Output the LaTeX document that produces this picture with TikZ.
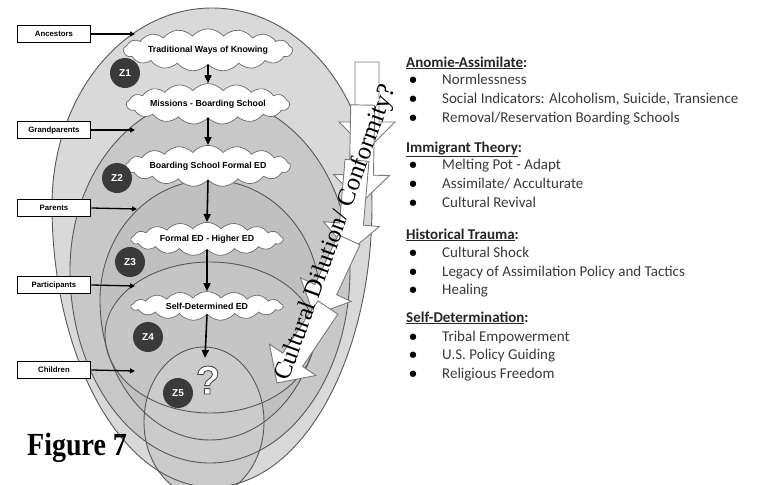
\documentclass[tikz,border=0pt]{standalone}
\usepackage{fontspec}
\setmainfont{Liberation Serif}
\newfontfamily\calib{Carlito}
\newfontfamily\arial{Liberation Sans}
\usetikzlibrary{shapes.symbols,arrows.meta}
\definecolor{eggA}{HTML}{D9D9D9}
\definecolor{eggB}{HTML}{C8C8C8}
\definecolor{eggC}{HTML}{C0C0C0}
\definecolor{eggD}{HTML}{C5C5C5}
\definecolor{eggE}{HTML}{CBCBCB}
\definecolor{eggline}{HTML}{585858}
\definecolor{zdark}{HTML}{3A3A3A}
\definecolor{cloudline}{HTML}{6A6A6A}
\definecolor{arrowline}{HTML}{7A7A7A}
\definecolor{txt}{HTML}{3A3A3A}
\definecolor{head}{HTML}{262626}
\newcommand\eggpath[5]{({#1-#4},#2) arc[start angle=180,end angle=360,x radius=#4,y radius=#3] arc[start angle=0,end angle=180,x radius=#4,y radius=#5] -- cycle}
\newcommand\bkarrow[4]{\begin{scope}[shift={(#1,#2)},rotate=#3]\draw[bkarrowstyle] (0,0) -- (-28,-28) -- (-28,-12) -- (-#4,-12) -- (-#4,12) -- (-28,12) -- (-28,28) -- cycle;\end{scope}}
\newcommand\outlinedq{\special{pdf:code q 2 Tr 0.9 w 0.3 0.3 0.3 RG}?\special{pdf:code Q}}
\tikzset{
  eggedge/.style={draw=eggline, line width=0.9pt},
  zc/.style={circle, fill=zdark, minimum size=30pt, inner sep=0pt, text=white, font=\arial\bfseries\fontsize{10}{10}\selectfont},
  cl/.style={cloud, cloud puffs=17, cloud puff arc=100, aspect=6, draw=cloudline, fill=white, line width=0.7pt, minimum width=152pt, minimum height=24pt, inner sep=0pt, font=\arial\bfseries\fontsize{8.8}{9}\selectfont},
  lbox/.style={draw=black, line width=1.8pt, fill=white, minimum width=73pt, minimum height=17pt, inner sep=0pt, font=\arial\bfseries\fontsize{7.8}{8}\selectfont},
  flow/.style={-{Triangle[length=8pt,width=7pt]}, line width=1.6pt},
  pointer/.style={-{Triangle[length=5pt,width=5pt]}, line width=1.3pt},
  bkarrowstyle/.style={draw=arrowline, fill=white, line width=0.9pt, line join=miter},
  hd/.style={anchor=base west, inner sep=0pt, text=head, font=\calib\bfseries\fontsize{15}{15}\selectfont},
  it/.style={anchor=base west, inner sep=0pt, text=txt, font=\calib\fontsize{15}{15}\selectfont},
  bul/.style={anchor=base, inner sep=0pt, text=black, font=\calib\bfseries\fontsize{15}{15}\selectfont},
  qm/.style={inner sep=0pt, font=\arial\bfseries\fontsize{40}{40}\selectfont}
}
\begin{document}
\begin{tikzpicture}[x=1pt,y=-1pt]
\fill[white] (0,0) rectangle (764,485);
\path[use as bounding box] (0,0) rectangle (764,485);
% nested eggs
\begin{scope}
\clip (0,0) rectangle (764,485);
\fill[eggA] \eggpath{212}{205}{197}{160}{282};
\fill[eggB] \eggpath{210}{270}{173}{140}{193};
\fill[eggC] \eggpath{210}{300}{120}{110}{140};
\fill[eggD] \eggpath{210}{335}{73}{105}{78};
\fill[eggE] (204,422) ellipse[x radius=60, y radius=75];
\draw[eggedge] \eggpath{212}{205}{197}{160}{282};
\draw[eggedge] \eggpath{210}{270}{173}{140}{193};
\draw[eggedge] \eggpath{210}{300}{120}{110}{140};
\draw[eggedge] \eggpath{210}{335}{73}{105}{78};
\draw[eggedge] (204,422) ellipse[x radius=60, y radius=75];
\end{scope}
% clouds
\node[cl] (c1) at (208,50) {Traditional Ways of Knowing};
\node[cl] (c2) at (208,104) {Missions - Boarding School};
\node[cl] (c3) at (208,166) {Boarding School Formal ED};
\node[cl] (c4) at (207,239) {Formal ED - Higher ED};
\node[cl] (c5) at (207,306) {Self-Determined ED};
\coordinate (qtop) at (205,358);
\draw[flow] (c1.south) -- (c2.north);
\draw[flow] (c2.south) -- (c3.north);
\draw[flow] (c3.south) -- (c4.north);
\draw[flow] (c4.south) -- (c5.north);
\draw[flow] (c5.south) -- (qtop);
% question mark
\node[qm,text=white] (qmark) at (208,380) {\outlinedq};
% zone circles
\node[zc] (z1) at (125,73) {Z1};
\node[zc] (z2) at (117,178) {Z2};
\node[zc] (z3) at (130,262) {Z3};
\node[zc] (z4) at (148,337) {Z4};
\node[zc] (z5) at (178,393) {Z5};
% block arrows
\bkarrow{367}{150}{-90}{88}
\bkarrow{361}{203}{-91}{98}
\bkarrow{349}{252}{-95}{92}
\bkarrow{314}{315}{-115}{83}
\bkarrow{277}{383}{-124}{91}
\node[rotate=70, inner sep=0pt, font=\fontsize{25}{25}\selectfont] (cd) at (336,233) {Cultural Dilution/ Conformity?};
% generation boxes
\node[lbox] (anc) at (54,34) {Ancestors};
\node[lbox] (gra) at (54,130) {Grandparents};
\node[lbox] (par) at (54,208) {Parents};
\node[lbox] (pat) at (54,285) {Participants};
\node[lbox] (chi) at (54,370) {Children};
\coordinate (anc-t) at (135,34);
\coordinate (gra-t) at (135,130);
\coordinate (par-t) at (137,209);
\coordinate (pat-t) at (135,286);
\coordinate (chi-t) at (135,371);
\draw[pointer] (anc.east) -- (anc-t);
\draw[pointer] (gra.east) -- (gra-t);
\draw[pointer] (par.east) -- (par-t);
\draw[pointer] (pat.east) -- (pat-t);
\draw[pointer] (chi.east) -- (chi-t);
% right-hand text
\node[hd] (h1) at (406,67) {\underline{Anomie-Assimilate}:};
\node[bul] (b11) at (413,84) {•}; \node[it] (t11) at (442,84) {Normlessness};
\node[bul] (b12) at (413,103) {•}; \node[it] (t12) at (442,103) {Social Indicators: Alcoholism, Suicide, Transience};
\node[bul] (b13) at (413,122) {•}; \node[it] (t13) at (442,122) {Removal/Reservation Boarding Schools};
\node[hd] (h2) at (406,152) {\underline{Immigrant Theory}:};
\node[bul] (b21) at (413,169) {•}; \node[it] (t21) at (442,169) {Melting Pot - Adapt};
\node[bul] (b22) at (413,188) {•}; \node[it] (t22) at (442,188) {Assimilate/ Acculturate};
\node[bul] (b23) at (413,207) {•}; \node[it] (t23) at (442,207) {Cultural Revival};
\node[hd] (h3) at (406,239) {\underline{Historical Trauma}:};
\node[bul] (b31) at (413,257) {•}; \node[it] (t31) at (442,257) {Cultural Shock};
\node[bul] (b32) at (413,276) {•}; \node[it] (t32) at (442,276) {Legacy of Assimilation Policy and Tactics};
\node[bul] (b33) at (413,294) {•}; \node[it] (t33) at (442,294) {Healing};
\node[hd] (h4) at (406,322) {\underline{Self-Determination}:};
\node[bul] (b41) at (413,341) {•}; \node[it] (t41) at (442,341) {Tribal Empowerment};
\node[bul] (b42) at (413,359) {•}; \node[it] (t42) at (442,359) {U.S. Policy Guiding};
\node[bul] (b43) at (413,378) {•}; \node[it] (t43) at (442,378) {Religious Freedom};
% figure caption
\node[anchor=base west, inner sep=0pt, font=\bfseries\fontsize{28}{28}\selectfont] (fig) at (27,455) {\scalebox{1}[1.15]{Figure 7}};
\end{tikzpicture}
\end{document}
